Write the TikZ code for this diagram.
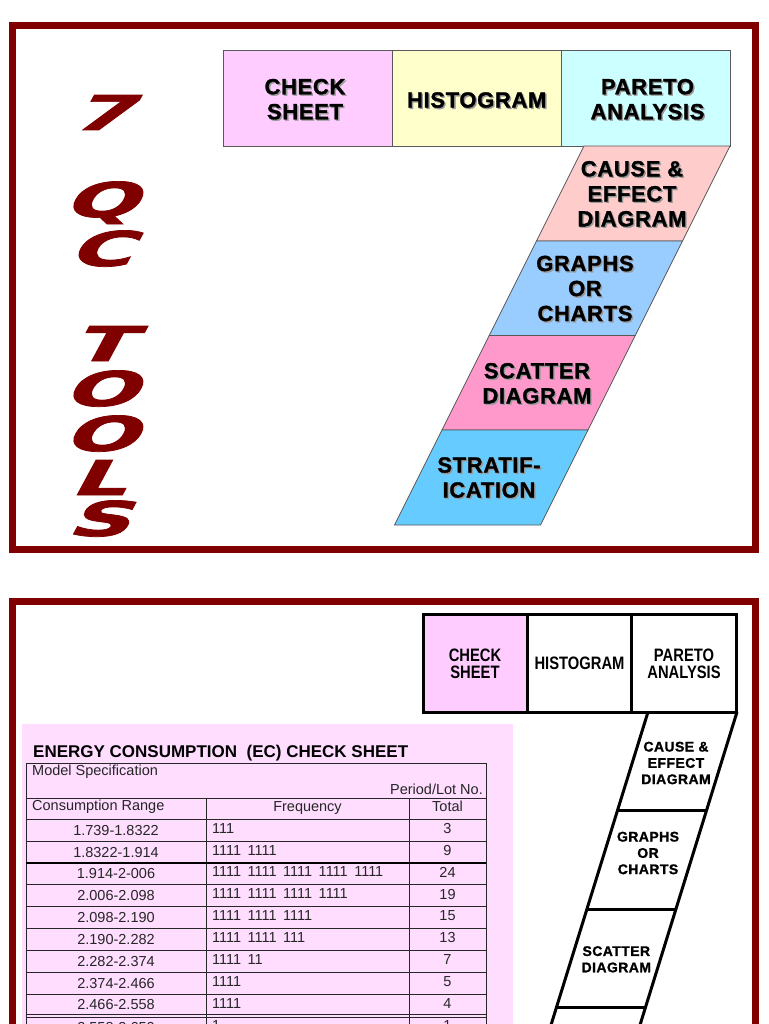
\documentclass[tikz,border=0pt]{standalone}
\usepackage{fontspec}
\setmainfont{Liberation Sans}
\newfontfamily\heavyfont[FakeBold=1.2, LetterSpace=3]{Liberation Sans}
\newfontfamily\narrowfont[FakeStretch=0.82]{Liberation Sans}
\newfontfamily\qcfont[FakeSlant=0.3, FakeBold=1.5]{DejaVu Sans}
\definecolor{frameRed}{HTML}{800000}
\definecolor{csPink}{HTML}{FFCCFF}
\definecolor{histYel}{HTML}{FFFFCC}
\definecolor{parCyan}{HTML}{CCFFFF}
\definecolor{causePink}{HTML}{FFCCCC}
\definecolor{graphBlue}{HTML}{99CCFF}
\definecolor{scatPink}{HTML}{FF99CC}
\definecolor{stratBlue}{HTML}{66CCFF}
\definecolor{panelPink}{HTML}{FFDDFF}
\newcommand\shlbl[3]{%
  \node[toplbl, text=black!40, xshift=1.4pt, yshift=-1.4pt] (#1-sh) at #2 {#3};
  \node[toplbl] (#1) at #2 {#3};}
\newcommand\qcl[1]{\scalebox{1.8}[1]{#1}}
\begin{document}
\begin{tikzpicture}[x=1pt,y=-1pt,
  frame/.style={draw=frameRed, line width=7pt},
  topbox/.style={draw=black!65, line width=0.8pt, minimum width=169pt, minimum height=96pt, inner sep=0pt},
  para/.style={draw=black!65, line width=0.8pt},
  toplbl/.style={font=\heavyfont\bfseries\fontsize{22}{25}\selectfont, align=center, inner sep=0pt},
  botbox/.style={draw=black, line width=3pt, minimum height=98pt, inner sep=0pt},
  bpara/.style={draw=black, line width=3pt, line join=round},
  narrowlbl/.style={font=\narrowfont\bfseries\fontsize{18}{17}\selectfont, align=center, inner sep=0pt},
  heavylbl/.style={font=\heavyfont\bfseries\fontsize{14}{16.3}\selectfont, align=center, inner sep=0pt},
  qcletter/.style={font=\qcfont\bfseries\fontsize{48}{48}\selectfont, text=frameRed, anchor=base, inner sep=0pt},
  tline/.style={draw=black!85, line width=0.9pt},
  ttext/.style={font=\fontsize{14.5}{16}\selectfont, inner sep=0pt, text=black!85},
  freqtext/.style={ttext, execute at begin node={\spaceskip=6.5pt plus 1pt}},
]
\useasboundingbox (0,0) rectangle (768,1024);
\clip (0,0) rectangle (768,1024);
\fill[white] (0,0) rectangle (768,1024);

% ---------------- top panel ----------------
\draw[frame] (12.5,25.5) rectangle (755.5,549.5);

\node[qcletter] (q7) at (100,130) {\qcl{7}};
\node[qcletter] (qQ) at (99,217) {\qcl{Q}};
\node[qcletter] (qC) at (99,266) {\qcl{C}};
\node[qcletter] (qT) at (100,361) {\qcl{T}};
\node[qcletter] (qO1) at (99,406) {\qcl{O}};
\node[qcletter] (qO2) at (99,451) {\qcl{O}};
\node[qcletter] (qL) at (97,495) {\qcl{L}};
\node[qcletter] (qS) at (97,536) {\qcl{S}};

\node[topbox, fill=csPink] (cs) at (307.5,98) {};
\node[topbox, fill=histYel] (hist) at (476.5,98) {};
\node[topbox, fill=parCyan] (par) at (645.5,98) {};

\coordinate (a0) at (584,146);   \coordinate (b0) at (730,146);
\coordinate (a1) at (536.5,241); \coordinate (b1) at (682.5,241);
\coordinate (a2) at (489.25,335.5); \coordinate (b2) at (635.25,335.5);
\coordinate (a3) at (442,430);   \coordinate (b3) at (588,430);
\coordinate (a4) at (394.5,525); \coordinate (b4) at (540.5,525);
\draw[para, fill=causePink] (a0) -- (b0) -- (b1) -- (a1) -- cycle;
\draw[para, fill=graphBlue] (a1) -- (b1) -- (b2) -- (a2) -- cycle;
\draw[para, fill=scatPink] (a2) -- (b2) -- (b3) -- (a3) -- cycle;
\draw[para, fill=stratBlue] (a3) -- (b3) -- (b4) -- (a4) -- cycle;

\shlbl{csl}{(305,99.2)}{CHECK\\SHEET}
\shlbl{histl}{(476.7,100)}{HISTOGRAM}
\shlbl{parl}{(647.5,99.2)}{PARETO\\ANALYSIS}
\shlbl{causel}{(632,193.8)}{CAUSE \&\\EFFECT\\DIAGRAM}
\shlbl{graphl}{(585,288.5)}{GRAPHS\\OR\\CHARTS}
\shlbl{scatl}{(537,383.3)}{SCATTER\\DIAGRAM}
\shlbl{stratl}{(489,477.5)}{STRATIF-\\ICATION}

% ---------------- bottom panel ----------------
\draw[frame] (12.5,601.5) rectangle (755.5,1100);

\fill[panelPink] (22,724) rectangle (513,1030);

\node[botbox, fill=csPink, minimum width=104pt] (cs2) at (475,663) {};
\node[botbox, fill=white, minimum width=104pt] (hist2) at (579,663) {};
\node[botbox, fill=white, minimum width=105.5pt] (par2) at (683.75,663) {};
\node[narrowlbl] (cs2l) at (475,663.5) {CHECK\\SHEET};
\node[narrowlbl] (hist2l) at (579.5,663.5) {HISTOGRAM};
\node[narrowlbl] (par2l) at (684,663.5) {PARETO\\ANALYSIS};

\coordinate (c0) at (648,712);   \coordinate (d0) at (737,712);
\coordinate (c1) at (617.6,810); \coordinate (d1) at (706.6,810);
\coordinate (c2) at (586.9,909); \coordinate (d2) at (675.9,909);
\coordinate (c3) at (556.5,1007); \coordinate (d3) at (645.5,1007);
\coordinate (c4) at (526.2,1105); \coordinate (d4) at (615.2,1105);
\draw[bpara] (c4) -- (c0) (d0) -- (d4);
\draw[bpara] (c1) -- (d1) (c2) -- (d2) (c3) -- (d3);
\node[heavylbl] (cause2l) at (676,763) {CAUSE \&\\EFFECT\\DIAGRAM};
\node[heavylbl] (graph2l) at (648,853) {GRAPHS\\OR\\CHARTS};
\node[heavylbl] (scat2l) at (616.3,959.3) {SCATTER\\DIAGRAM};

% title and table
\node[font=\bfseries\fontsize{17}{19}\selectfont, anchor=base west, inner sep=0pt] (title) at (33,757)
  {ENERGY CONSUMPTION\ \ (EC) CHECK SHEET};

\draw[tline] (26,763) rectangle (486,1060);
\draw[tline] (206,798.5) -- (206,1060) (409,798.5) -- (409,1060);
\foreach \yy in {798.5,819,841,884.5,906,928,950,972,994,1014.5,1017.5}
  \draw[tline] (26,\yy) -- (486,\yy);
\draw[draw=black, line width=2.6pt] (26,863) -- (486,863);

\node[ttext, anchor=west] (modspec) at (32,771.5) {Model Specification};
\node[ttext, anchor=east] (period) at (483,789) {Period/Lot No.};
\node[ttext, anchor=west] (hrange) at (32,806.5) {Consumption Range};
\node[ttext] (hfreq) at (307.5,808) {Frequency};
\node[ttext] (htot) at (447.5,806) {Total};

\foreach \i/\rng/\frq/\tot/\yy in {
  1/{1.739-1.8322}/{111}/3/830,
  2/{1.8322-1.914}/{1111 1111}/9/852,
  3/{1.914-2-006}/{1111 1111 1111 1111 1111}/24/873.5,
  4/{2.006-2.098}/{1111 1111 1111 1111}/19/895.5,
  5/{2.098-2.190}/{1111 1111 1111}/15/917,
  6/{2.190-2.282}/{1111 1111 111}/13/939,
  7/{2.282-2.374}/{1111 11}/7/961,
  8/{2.374-2.466}/{1111}/5/983,
  9/{2.466-2.558}/{1111}/4/1004.5,
  10/{2.558-2.650}/{1}/1/1027}{
  \node[ttext] (rr\i) at (116,\yy) {\rng};
  \node[freqtext, anchor=west] (rf\i) at (212,\yy-1.5) {\frq};
  \node[ttext] (rt\i) at (447.5,\yy-1.5) {\tot};
}
\end{tikzpicture}
\end{document}
